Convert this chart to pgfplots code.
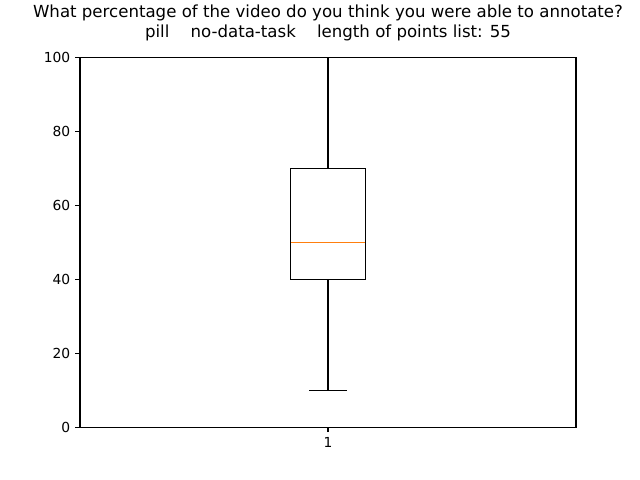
\documentclass[border=0pt]{standalone}
\usepackage{pgfplots}
\pgfplotsset{compat=1.18}
\usepackage{fontspec}
\setmainfont{DejaVu Sans}
\definecolor{mplorange}{HTML}{FF7F0E}
\begin{document}
\begin{tikzpicture}
\path (0,0) rectangle (6.4in,4.8in);
\begin{axis}[
  at={(0.8in,0.528in)}, anchor=south west,
  width=4.96in, height=3.696in, scale only axis,
  xmin=0.5, xmax=1.5, ymin=0, ymax=100,
  xtick={1}, xticklabels={1},
  ytick={0,20,40,60,80,100},
  tick align=outside, tick pos=left,
  major tick length=3.5pt,
  axis line style={line width=0.8pt},
  every tick/.style={black, line width=0.8pt},
  tick label style={font=\fontsize{10}{12}\selectfont},
  /pgf/number format/assume math mode=true,
  clip=false,
  title={What percentage of the video do you think you were able to annotate?\\pill\ \ \ \ no-data-task\ \ \ \ length of points list: 55},
  title style={at={(0.5,1)}, anchor=south, yshift=6pt, inner sep=0pt, align=center, font=\fontsize{12}{14.4}\selectfont},
]
% box
\addplot[black, line width=0.9pt, mark=none] coordinates {(0.925,40) (1.075,40) (1.075,70) (0.925,70) (0.925,40)} -- cycle;
% whiskers
\addplot[black, line width=0.9pt, mark=none] coordinates {(1,40) (1,10)};
\addplot[black, line width=0.9pt, mark=none] coordinates {(1,70) (1,100)};
% caps
\addplot[black, line width=0.9pt, mark=none] coordinates {(0.9625,10) (1.0375,10)};
\addplot[black, line width=0.9pt, mark=none] coordinates {(0.9625,100) (1.0375,100)};
% median
\addplot[mplorange, line width=0.9pt, mark=none] coordinates {(0.925,50) (1.075,50)};
\end{axis}
\end{tikzpicture}
\end{document}
